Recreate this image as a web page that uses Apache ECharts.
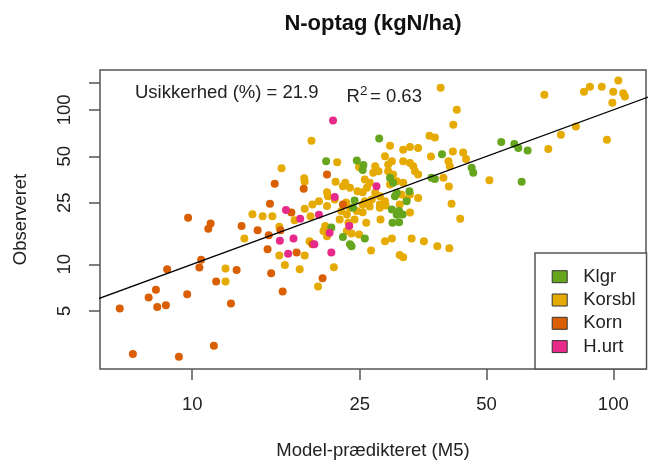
<!DOCTYPE html>
<html>
<head>
<meta charset="utf-8">
<script src="https://cdn.jsdelivr.net/npm/echarts@6/dist/echarts.min.js"></script>
<style>
html, body { margin: 0; padding: 0; background: #fff; }
#chart { width: 651px; height: 465px; }
</style>
</head>
<body>
<div id="chart"></div>
<script>
var klgr = [[20.8,46.5],[24.6,46.9],[25.5,43.9],[25.4,40.7],[27.8,65.3],[39.2,51.6],[54.2,61.9],[58.2,60.1],
	[59.5,56.6],[62.6,54.6],[60.6,34.2],[46.1,42.1],[46.5,39.1],[37.0,36.3],[37.7,35.7],[29.5,36.3],[30.0,33.7],
	[30.6,29.0],[30.3,27.6],[32.8,29.7],[32.3,25.6],[24.3,25.9],[29.8,22.6],[31.0,22.1],[31.6,21.0],[30.6,20.9],
	[29.9,18.6],[31.0,18.7],[21.4,17.3],[22.8,15.0],[23.7,13.5],[23.9,13.1],[25.7,14.7],[24.1,23.2]];
var korsbl = [[38.9,139],[42.5,100],[41.7,80.0],[36.6,68.0],[37.7,66.3],[29.5,58.6],[31.7,55.2],[32.9,57.5],
	[34.4,56.6],[36.9,49.8],[41.6,53.8],[44.0,53.0],[44.7,48.1],[40.6,46.4],[40.9,43.1],[68.6,125],[85.2,131],
	[88.0,141],[93.9,141],[100,131],[102.8,154.5],[105.6,128],[106.6,122],[99.5,111],[81.5,78.0],[75.1,69.0],
	[70.1,55.8],[96.6,64.1],[50.8,35.0],[40.7,31.9],[41.3,24.7],[43.3,19.7],[39.5,36.3],[34.4,26.9],[32.9,21.6],
	[28.0,19.5],[25.9,18.6],[28.7,14.1],[29.8,14.7],[33.2,14.7],[35.5,14.1],[38.2,13.1],[40.8,12.7],[26.6,12.3],
	[31.1,11.5],[31.7,11.1],[24.9,15.6],[28.7,50.0],[29.8,46.4],[29.2,44.2],[31.7,46.4],[32.9,45.3],[33.5,43.1],
	[33.8,40.0],[34.4,38.1],[27.2,43.1],[26.9,39.1],[27.7,40.0],[29.2,40.0],[30.0,38.1],[29.8,35.4],[30.6,34.5],
	[31.7,33.7],[29.5,32.8],[25.7,35.4],[26.4,33.7],[26.0,31.3],[27.2,29.0],[26.7,26.3],[27.9,27.6],[28.7,25.6],
	[27.9,24.4],[31.4,28.3],[32.9,28.3],[32.3,26.3],[31.1,24.4],[25.4,24.4],[26.4,23.7],[25.4,21.7],[27.9,23.2],
	[28.8,24.0],[22.1,45.7],[24.9,42.7],[16.3,41.8],[19.2,63.1],[18.45,36.1],[18.5,34.3],[21.9,34.2],[23.1,33.7],
	[23.7,31.3],[24.7,29.7],[25.4,29.3],[20.9,29.3],[21.0,27.6],[20.0,25.6],[19.3,24.4],[23.2,25.1],[25.7,25.6],
	[18.5,22.9],[20.9,23.8],[21.8,26.3],[19.1,20.5],[17.5,19.3],[13.9,21.1],[14.7,20.5],[15.5,20.5],[22.6,22.1],
	[23.3,21.0],[22.4,19.5],[23.5,18.6],[24.3,19.5],[23.7,23.2],[24.6,22.1],[20.7,17.7],[20.5,16.4],[20.9,15.2],
	[23.3,16.4],[23.9,15.8],[16.1,17.5],[13.3,14.7],[19.0,14.1],[16.1,11.4],[18.5,11.4],[21.7,9.56],[19.9,7.18],
	[16.6,9.9],[18.0,9.28],[12.0,9.38],[12.0,7.73],[22.8,32.0]];
var korn = [[9.78,20.0],[11.06,18.4],[10.92,17.0],[13.1,17.7],[14.3,16.6],[15.2,15.4],[16.2,16.6],[15.1,12.5],
	[17.7,11.9],[19.3,13.5],[20.4,8.12],[16.4,6.67],[15.4,8.75],[12.75,9.19],[11.4,7.73],[12.36,5.58],[10.5,10.7],
	[10.4,9.52],[8.72,9.28],[8.2,6.83],[7.88,6.1],[9.73,6.4],[8.26,5.3],[8.66,5.44],[6.73,5.18],[7.23,2.63],
	[9.3,2.52],[11.26,2.97],[20.9,38.1],[15.7,33.2],[18.4,30.8],[15.3,24.7],[17.2,21.6],[22.8,24.4]];
var hurt = [[21.6,85.3],[21.8,27.3],[16.7,22.5],[18.05,19.7],[20.0,20.9],[16.15,14.2],[17.4,14.7],[16.9,11.7],
	[21.4,11.9],[21.2,16.0],[19.5,13.5],[23.6,17.7],[27.4,32.0]];
// 1:1 line
var oneToOne = [[1,1],[1000,1000]];

var xTicks = [10, 25, 50, 100];
var yTicks = [5, 10, 25, 50, 100, 150];
var yLabels = [5, 10, 25, 50, 100];

var groups = ['Klgr', 'Korsbl', 'Korn', 'H.urt'];
var colors = { 'Klgr': '#66A61E', 'Korsbl': '#E6AB02', 'Korn': '#D95F02', 'H.urt': '#E7298A' };

var FONT = '"Liberation Sans", Arial, sans-serif';

function pts(name, data) {
	return {
		name : name,
		type : 'scatter',
		data : data,
		symbol : 'circle',
		symbolSize : 8,
		itemStyle : { color : colors[name], opacity : 1 },
		emphasis : { disabled : true }
	};
}

var myChart = echarts.init(document.getElementById('chart'), null, { renderer : 'canvas' });

option = {
	animation : false,
	color : [colors['Klgr'], colors['Korsbl'], colors['Korn'], colors['H.urt']],
	title : {
		text : 'N-optag (kgN/ha)',
		left : 373,
		textAlign : 'center',
		top : 13,
		padding : 0,
		textStyle : { fontFamily : FONT, fontSize : 22, fontWeight : 'bold', color : '#111' }
	},
	grid : {
		left : 100, top : 70, width : 546, height : 300,
		show : true, borderColor : '#555', borderWidth : 1.5, backgroundColor : 'transparent'
	},
	xAxis : {
		type : 'log',
		min : 6.04, max : 119.6,
		name : 'Model-prædikteret (M5)',
		nameLocation : 'middle',
		nameGap : 72,
		nameTextStyle : { fontFamily : FONT, fontSize : 18.5, color : '#222' },
		axisLine : { show : false },
		splitLine : { show : false },
		minorTick : { show : false },
		axisTick : { show : true, length : 11, customValues : xTicks, lineStyle : { color : '#555', width : 1.5 } },
		axisLabel : { customValues : xTicks, margin : 26, fontFamily : FONT, fontSize : 18.5, color : '#222' }
	},
	yAxis : {
		type : 'log',
		min : 2.1, max : 181,
		name : 'Observeret',
		nameLocation : 'middle',
		nameGap : 70,
		nameRotate : 90,
		nameTextStyle : { fontFamily : FONT, fontSize : 18.5, color : '#222' },
		axisLine : { show : false },
		splitLine : { show : false },
		axisTick : { show : true, length : 11, customValues : yTicks, lineStyle : { color : '#555', width : 1.5 } },
		axisLabel : { customValues : yLabels, rotate : 90, margin : 26, fontFamily : FONT, fontSize : 18.5, color : '#222' }
	},
	legend : {
		data : groups,
		orient : 'vertical',
		left : 535,
		top : 253,
		padding : [13.7, 10.9, 12.5, 16.7],
		itemWidth : 15,
		itemHeight : 12,
		itemGap : 3.3,
		icon : 'rect',
		borderColor : '#555',
		borderWidth : 1.5,
		borderRadius : 0,
		backgroundColor : '#fff',
		itemStyle : { borderColor : '#333', borderWidth : 1 },
		textStyle : { fontFamily : FONT, fontSize : 18.5, lineHeight : 20, color : '#222', padding : [0, 0, 0, 11] }
	},
	graphic : [
		{ type : 'text', left : 135, top : 83, style : { text : 'Usikkerhed (%) = 21.9', font : '18.5px ' + FONT, fill : '#222' } },
		{ type : 'text', left : 346.5, top : 87.5, style : { text : 'R', font : '18.5px ' + FONT, fill : '#222' } },
		{ type : 'text', left : 360, top : 84, style : { text : '2', font : '13.5px ' + FONT, fill : '#222' } },
		{ type : 'text', left : 370, top : 87.5, style : { text : '= 0.63', font : '18.5px ' + FONT, fill : '#222' } }
	],
	series : [
		pts('Korsbl', korsbl),
		pts('Klgr', klgr),
		pts('Korn', korn),
		pts('H.urt', hurt),
		{
			name : '1:1',
			type : 'line',
			data : oneToOne,
			symbol : 'none',
			clip : true,
			silent : true,
			lineStyle : { color : '#000', width : 1.2 },
			z : 3
		}
	]
};
myChart.setOption(option);
</script>
</body>
</html>
